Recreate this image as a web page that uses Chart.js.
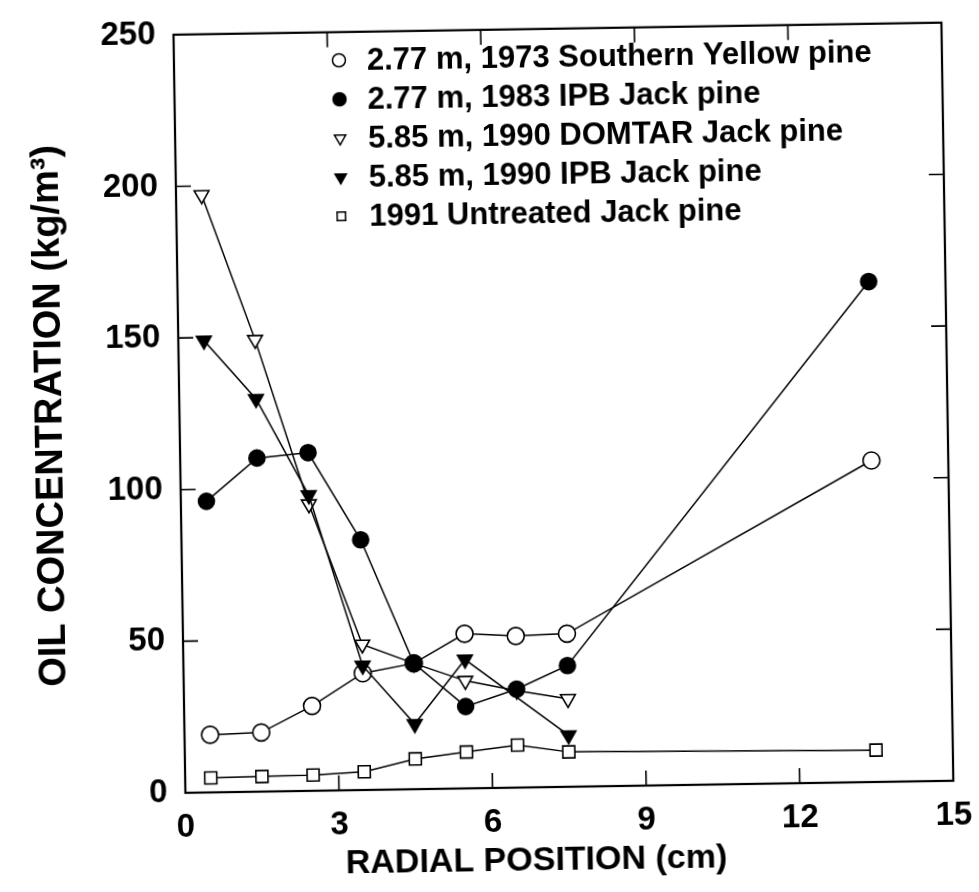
<!DOCTYPE html>
<html>
<head>
<meta charset="utf-8">
<script src="https://cdn.jsdelivr.net/npm/chart.js@4.4.1/dist/chart.umd.min.js"></script>
<style>
  html, body { margin: 0; padding: 0; background: #fff; overflow: hidden; }
  /* the scanned figure sits slightly rotated on the page */
  #wrap { width: 979px; height: 892px; transform: rotate(-0.9deg); transform-origin: 50% 50%; }
</style>
</head>
<body>
<div id="wrap"><canvas id="chart"></canvas></div>
<script>
// radial positions (cm)
const xsAll = [0.5, 1.5, 2.5, 3.5, 4.5, 5.5, 6.5, 7.5, 13.5];
const xsShort = [0.5, 1.5, 2.5, 3.5, 4.5, 5.5, 6.5, 7.5];
const xsIpb1990 = [0.5, 1.5, 2.5, 3.5, 4.5, 5.5, 7.5];

// oil concentration (kg/m3)
const sypine1973 = [19, 19.5, 28, 38.5, 41.5, 51, 50, 50.5, 106];
const ipb1983 = [96, 110, 111.5, 82.5, 41.5, 27, 32.5, 40, 165];
const domtar1990 = [197, 149, 94.5, 48, 41.5, 35.5, 32, 29];
const ipb1990 = [149, 129.5, 97.5, 41, 21.5, 42.5, 17];
const untreated1991 = [4.8, 5, 5.2, 6, 10, 12, 14, 11.5, 10.5];

const legendLabels = [
    '2.77 m, 1973 Southern Yellow pine',
    '2.77 m, 1983 IPB Jack pine',
    '5.85 m, 1990 DOMTAR Jack pine',
    '5.85 m, 1990 IPB Jack pine',
    '1991 Untreated Jack pine'
];

const xTicks = [0, 3, 6, 9, 12, 15];
const yTicks = [0, 50, 100, 150, 200, 250];

const FONT = "'Liberation Sans', Arial, Helvetica, sans-serif";

function pts(xs, ys) {
    return xs.map((x, i) => ({ x: x, y: ys[i] }));
}

const markers = [
    { pointStyle: 'circle', radius: 8.5, rotation: 0, fill: '#fff' },
    { pointStyle: 'circle', radius: 8, rotation: 0, fill: '#000' },
    { pointStyle: 'triangle', radius: 8.5, rotation: 180, fill: '#fff' },
    { pointStyle: 'triangle', radius: 8.5, rotation: 180, fill: '#000' },
    { pointStyle: 'rect', radius: 8.5, rotation: 0, fill: '#fff' }
];

const seriesData = [
    pts(xsAll, sypine1973),
    pts(xsAll, ipb1983),
    pts(xsShort, domtar1990),
    pts(xsIpb1990, ipb1990),
    pts(xsAll, untreated1991)
];
const drawOrder = [2, 0, 3, 1, 4];

const datasets = seriesData.map((d, i) => ({
    label: legendLabels[i],
    data: d,
    showLine: true,
    borderColor: '#000',
    borderWidth: 1.5,
    pointStyle: markers[i].pointStyle,
    pointRadius: markers[i].radius,
    pointRotation: markers[i].rotation,
    pointBackgroundColor: markers[i].fill,
    pointBorderColor: '#000',
    pointBorderWidth: 1.6,
    order: drawOrder[i]
}));

// frame, inward tick marks, legend and x title
const framePlugin = {
    id: 'frame',
    afterDraw(chart) {
        const { ctx, chartArea: a, scales } = chart;
        ctx.save();
        ctx.strokeStyle = '#000';
        ctx.lineWidth = 2.2;
        ctx.strokeRect(a.left, a.top, a.right - a.left, a.bottom - a.top);

        const len = 15;
        ctx.lineWidth = 1.6;
        ctx.beginPath();
        xTicks.slice(1, -1).forEach(v => {
            const px = scales.x.getPixelForValue(v);
            ctx.moveTo(px, a.bottom); ctx.lineTo(px, a.bottom - len);
            ctx.moveTo(px, a.top); ctx.lineTo(px, a.top + len);
        });
        yTicks.slice(1, -1).forEach(v => {
            const py = scales.y.getPixelForValue(v);
            ctx.moveTo(a.left, py); ctx.lineTo(a.left + len, py);
            ctx.moveTo(a.right, py); ctx.lineTo(a.right - len, py);
        });
        ctx.stroke();

        // legend
        const lx = 345, ly0 = 58, step = 39;
        ctx.font = 'bold 31px ' + FONT;
        ctx.textBaseline = 'middle';
        ctx.textAlign = 'left';
        legendLabels.forEach((t, i) => {
            const y = ly0 + i * step;
            const m = markers[i];
            ctx.fillStyle = m.fill;
            ctx.strokeStyle = '#000';
            ctx.lineWidth = 1.5;
            Chart.helpers.drawPoint(ctx, {
                pointStyle: m.pointStyle,
                radius: m.pointStyle === 'rect' ? 6 : 6.5,
                rotation: m.rotation,
                borderWidth: 1.5
            }, lx, y);
            ctx.fillStyle = '#000';
            ctx.fillText(t, lx + 28, y + 1);
        });

        // x axis title
        ctx.font = 'bold 34px ' + FONT;
        ctx.textAlign = 'center';
        ctx.fillText('RADIAL POSITION (cm)', 530, 862);
        ctx.restore();
    }
};

new Chart(document.getElementById('chart'), {
    type: 'scatter',
    data: { datasets: datasets },
    options: {
        responsive: true,
        maintainAspectRatio: false,
        animation: false,
        layout: { padding: { left: 0, right: 31, top: 18, bottom: 0 } },
        plugins: {
            legend: { display: false },
            tooltip: { enabled: false }
        },
        scales: {
            x: {
                type: 'linear',
                min: 0, max: 15,
                afterBuildTicks: s => { s.ticks = xTicks.map(v => ({ value: v })); },
                afterFit: s => { s.height = 104; },
                grid: { display: false },
                border: { display: false },
                ticks: {
                    color: '#000',
                    padding: 7,
                    maxRotation: 0,
                    font: { family: FONT, size: 33, weight: 'bold' }
                }
            },
            y: {
                type: 'linear',
                min: 0, max: 250,
                afterBuildTicks: s => { s.ticks = yTicks.map(v => ({ value: v })); },
                afterFit: s => { s.width = 180; },
                grid: { display: false },
                border: { display: false },
                title: {
                    display: true,
                    text: 'OIL CONCENTRATION (kg/m\u00B3)',
                    color: '#000',
                    padding: { top: 29, bottom: 0 },
                    font: { family: FONT, size: 38, weight: 'bold' }
                },
                ticks: {
                    color: '#000',
                    padding: 10,
                    font: { family: FONT, size: 33, weight: 'bold' }
                }
            }
        }
    },
    plugins: [framePlugin]
});
</script>
</body>
</html>
